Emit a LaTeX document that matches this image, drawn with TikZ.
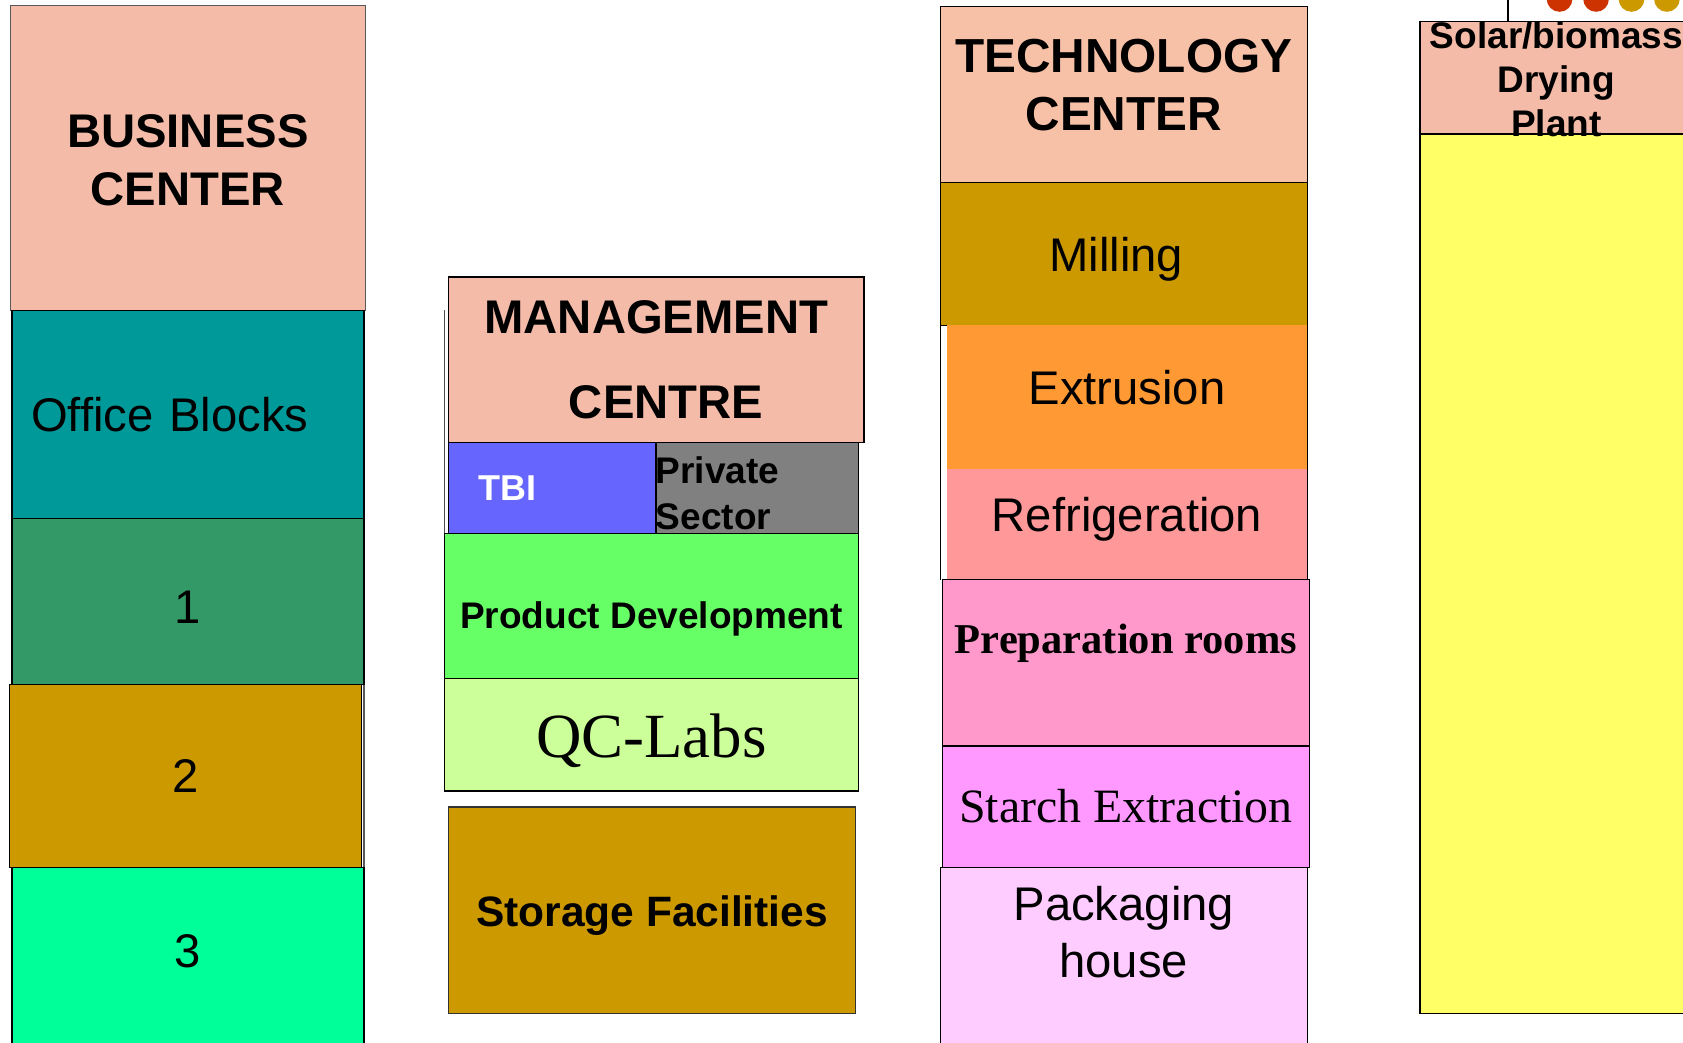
\documentclass[tikz,border=0pt]{standalone}
\usepackage{fontspec}
\setmainfont{Liberation Sans}
\newfontfamily\timesfont{Liberation Serif}
\usepackage{tikz}
\usetikzlibrary{positioning}

\definecolor{hdr}{HTML}{F3BBA8}
\definecolor{techhdr}{HTML}{F7C1A7}
\definecolor{teal1}{HTML}{009999}
\definecolor{green1}{HTML}{339966}
\definecolor{gold1}{HTML}{CC9900}
\definecolor{mint1}{HTML}{00FF99}
\definecolor{tbiblue}{HTML}{6666FF}
\definecolor{grey1}{HTML}{808080}
\definecolor{pdgreen}{HTML}{66FF66}
\definecolor{qcgreen}{HTML}{CCFF99}
\definecolor{orange1}{HTML}{FF9933}
\definecolor{rose1}{HTML}{FF9999}
\definecolor{pink1}{HTML}{FF99CC}
\definecolor{pink2}{HTML}{FF99FF}
\definecolor{pink3}{HTML}{FFCCFF}
\definecolor{yellow1}{HTML}{FFFF66}
\definecolor{dotred}{HTML}{CC3300}

\newcommand{\sz}[2]{\fontsize{#1pt}{#2pt}\selectfont}
\newcommand{\lift}[3][c]{\raisebox{#2}[\height][\depth]{\begin{tabular}{@{}#1@{}}#3\end{tabular}}}

\begin{document}
\begin{tikzpicture}[x=1pt, y=-1pt, node distance=0pt,
        room/.style={draw=black, line width=1.3pt, inner sep=0pt, outer sep=0pt, minimum width=#1, align=center},
        big/.style={font=\sz{44}{54}}]
    \useasboundingbox (0,0) rectangle (1568,971);

    % Business center column
    \node (BC) [room=330pt, minimum height=284pt, anchor=north west, fill=hdr, draw=gray!70!black, line width=0.8pt, font=\bfseries\sz{44}{54}] at (10,5) {\lift{-7pt}{BUSINESS\\CENTER}};
    \node (OB) [room=328pt, minimum height=194pt, below=of BC, fill=teal1, text width=292pt, align=left, big] {Office Blocks};
    \node (B1) [room=328pt, minimum height=155pt, below=of OB, fill=green1, big] {\lift{-10pt}{1}};
    \draw[gray!70!black, line width=1.3pt] (B1.south east) -- ++(0,170);
    \node (B2) [room=328pt, minimum height=170pt, below=of B1, xshift=-2pt, fill=gold1, big] {2};
    \node (B3) [room=328pt, minimum height=175pt, below=of B2, xshift=2pt, fill=mint1, big] {\lift{5pt}{3}};

    % Management centre column
    \node (MC) [room=387pt, minimum height=154pt, anchor=north west, fill=hdr, font=\bfseries\sz{44}{79}] at (418,258) {MANAGEMENT\\\hspace*{18pt}CENTRE};
    \node (TBI) [room=193pt, minimum height=85pt, anchor=north west, fill=tbiblue, text width=137pt, align=left, text=white, font=\bfseries\sz{33.5}{40}] at (MC.south west) {TBI};
    \node (PS) [room=189pt, minimum height=85pt, anchor=north west, fill=grey1, text width=189pt, align=left, font=\bfseries\sz{34.5}{42}] at (TBI.north east) {\lift[l]{-9pt}{Private\\Sector}};
    \node (PD) [room=386pt, minimum height=135pt, anchor=north west, fill=pdgreen, font=\bfseries\sz{34.5}{42}] at (414,497) {\lift{-13pt}{Product Development}};
    \draw[gray!60!black, line width=1.3pt] (PD.north west) -- ++(0,-208);
    \node (QC) [room=386pt, minimum height=105pt, below=of PD, fill=qcgreen, font=\timesfont\sz{58.6}{66}] {\lift{-8pt}{QC-Labs}};
    \node (SF) [room=379pt, minimum height=192pt, anchor=north west, fill=gold1, draw=gray!40!black, font=\bfseries\sz{39.6}{46}] at (418,752) {\lift{-6pt}{Storage Facilities}};

    % Technology center column
    \node (TC) [room=342pt, minimum height=164pt, anchor=north west, fill=techhdr, font=\bfseries\sz{44.5}{54}] at (876,6) {\lift{4pt}{TECHNOLOGY\\CENTER}};
    \node (MI) [room=342pt, minimum height=133pt, below=of TC, fill=gold1, big] {\lift{-6pt}{Milling\hspace*{14pt}}};
    \node (EX) [room=336pt, minimum height=134pt, anchor=north west, fill=orange1, draw=none, big] at (882,303) {\lift{4pt}{Extrusion}};
    \node (RF) [room=336pt, minimum height=103pt, below=of EX, fill=rose1, draw=none, big] {\lift{4pt}{Refrigeration}};
    \draw[line width=1.3pt] (MI.south west) -- ++(0,237);
    \draw[line width=1.3pt] (MI.south east) -- ++(0,237);
    \node (PR) [room=342pt, minimum height=155pt, anchor=north west, fill=pink1, font=\timesfont\bfseries\sz{39.6}{46}] at (878,540) {\lift{18pt}{Preparation rooms}};
    \node (SE) [room=342pt, minimum height=113pt, below=of PR, fill=pink2, font=\timesfont\sz{44.6}{52}] {Starch Extraction};
    \node (PH) [room=342pt, minimum height=175pt, anchor=north west, fill=pink3, font=\sz{44}{53}] at (876,808) {\lift{22pt}{Packaging\\house}};

    % Drying plant column
    \draw[line width=1.3pt] (1405,0) -- (1405,20);
    \foreach \x/\c in {1453/dotred, 1487/dotred, 1520/gold1, 1553/gold1}
        \fill[\c] (\x,-1) circle (12pt);
    \node (DP) [room=260pt, minimum height=105pt, anchor=north west, fill=hdr] at (1323,20) {};
    \node (DY) [room=260pt, minimum height=819pt, below=of DP, fill=yellow1] {};
    \node (DPT) [align=center, inner sep=0pt, font=\bfseries\sz{34.5}{41}] at ([xshift=-3pt, yshift=-1.5pt]DP.center) {Solar/biomass\\Drying\\Plant};
\end{tikzpicture}
\end{document}
